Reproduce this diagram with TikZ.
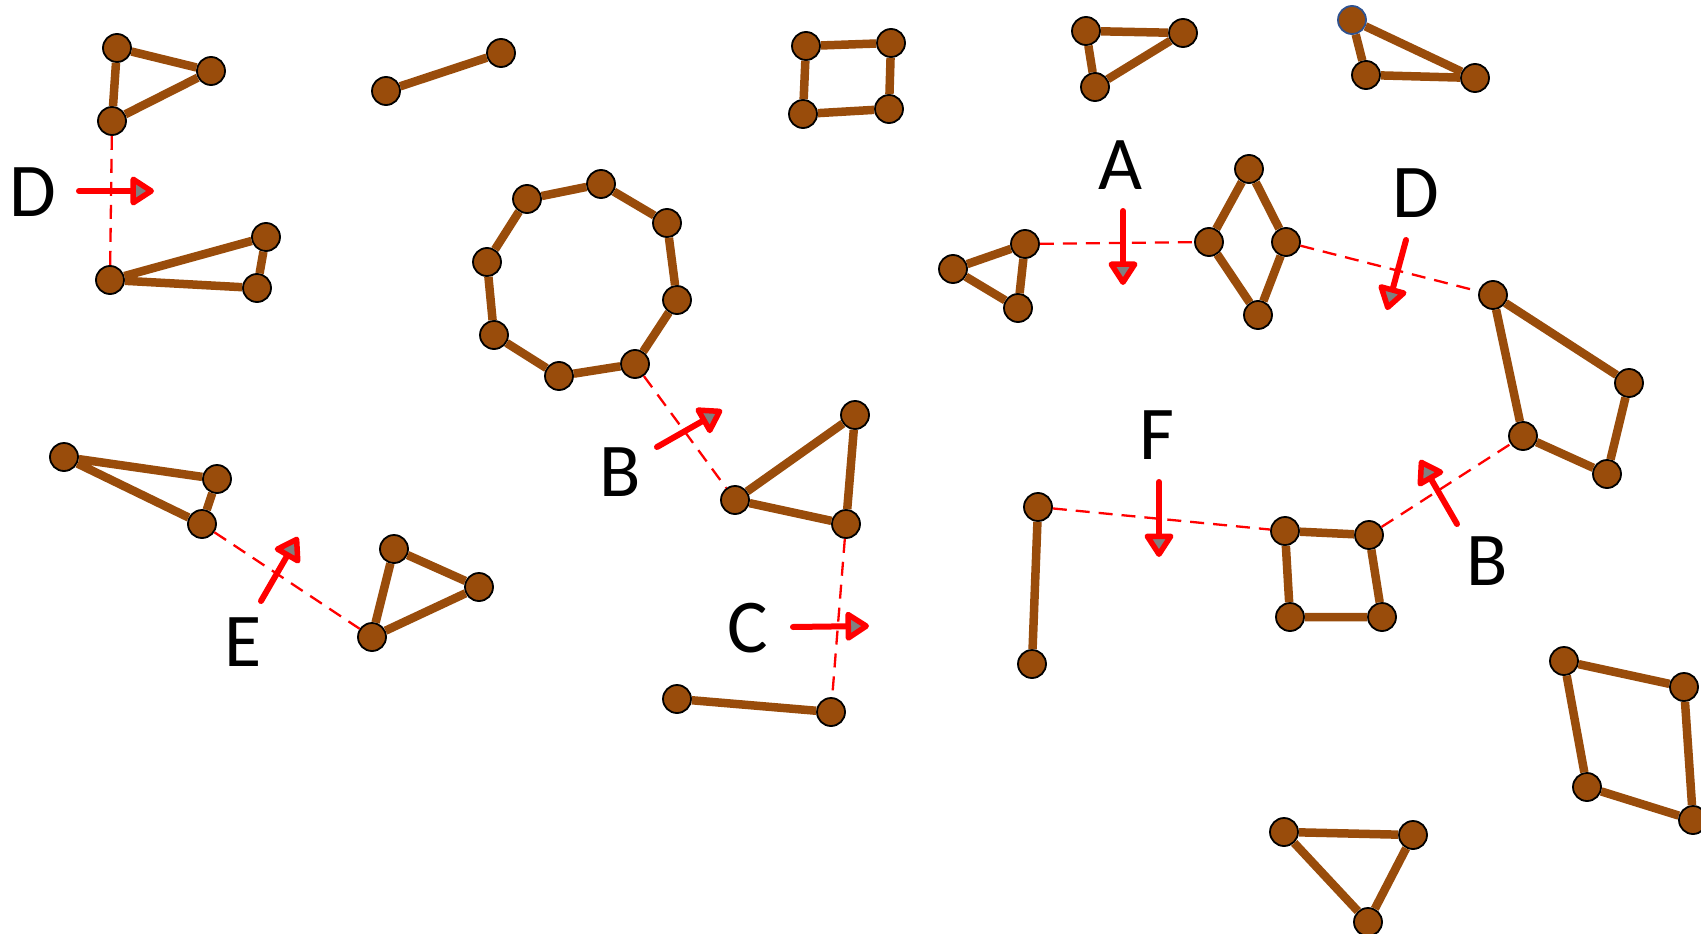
\documentclass[tikz,border=0pt]{standalone}
\usepackage{fontspec}
\setmainfont{Carlito}
\usetikzlibrary{arrows.meta}
\definecolor{nodebrown}{RGB}{153,76,11}
\definecolor{bluering}{RGB}{47,82,143}
\begin{document}
\begin{tikzpicture}[x=1pt,y=-1pt,
  v/.style={circle,fill=nodebrown,draw=black,line width=1.8pt,minimum size=28pt,inner sep=0pt},
  e/.style={draw=nodebrown,line width=8.5pt},
  link/.style={draw=red,line width=2.3pt,dash pattern=on 14pt off 9pt},
  move/.style={draw=red,line width=6pt,line cap=round,-{Triangle[length=26pt,width=32pt,fill=gray,line width=5.5pt,round]}},
  lbl/.style={font=\fontsize{76}{80}\selectfont,inner sep=0pt,text=black}]
\useasboundingbox (0,0) rectangle (1701,934);
% nodes
\node[v] (t1a) at (117,48) {}; \node[v] (t1b) at (211,71) {}; \node[v] (t1c) at (112,121) {};
\node[v] (t2a) at (110,280) {}; \node[v] (t2b) at (266,237) {}; \node[v] (t2c) at (257,288) {};
\node[v] (s1a) at (386,91) {}; \node[v] (s1b) at (501,53) {};
\node[v] (q1a) at (806,46) {}; \node[v] (q1b) at (891,43) {}; \node[v] (q1c) at (889,109) {}; \node[v] (q1d) at (803,114) {};
\node[v] (t3a) at (1086,31) {}; \node[v] (t3b) at (1183,33) {}; \node[v] (t3c) at (1095,87) {};
\node[v,draw=bluering] (t4a) at (1352,20) {}; \node[v] (t4b) at (1366,75) {}; \node[v] (t4c) at (1475,78) {};
\node[v] (o1) at (527,199) {}; \node[v] (o2) at (601,184) {}; \node[v] (o3) at (667,223) {}; \node[v] (o4) at (677,300) {};
\node[v] (o5) at (635,364) {}; \node[v] (o6) at (559,376) {}; \node[v] (o7) at (494,335) {}; \node[v] (o8) at (487,262) {};
\node[v] (t5a) at (735,500) {}; \node[v] (t5b) at (855,415) {}; \node[v] (t5c) at (846,524) {};
\node[v] (s2a) at (677,699) {}; \node[v] (s2b) at (831,712) {};
\node[v] (t6a) at (64,457) {}; \node[v] (t6b) at (217,479) {}; \node[v] (t6c) at (202,524) {};
\node[v] (t7a) at (394,549) {}; \node[v] (t7b) at (479,587) {}; \node[v] (t7c) at (372,637) {};
\node[v] (t8a) at (953,269) {}; \node[v] (t8b) at (1025,244) {}; \node[v] (t8c) at (1018,308) {};
\node[v] (da) at (1249,169) {}; \node[v] (db) at (1209,242) {}; \node[v] (dc) at (1286,242) {}; \node[v] (dd) at (1258,315) {};
\node[v] (q2a) at (1493,295) {}; \node[v] (q2b) at (1629,383) {}; \node[v] (q2c) at (1607,474) {}; \node[v] (q2d) at (1523,436) {};
\node[v] (s3a) at (1038,507) {}; \node[v] (s3b) at (1032,664) {};
\node[v] (q3a) at (1285,531) {}; \node[v] (q3b) at (1369,535) {}; \node[v] (q3c) at (1382,617) {}; \node[v] (q3d) at (1290,617) {};
\node[v] (q4a) at (1564,661) {}; \node[v] (q4b) at (1684,687) {}; \node[v] (q4c) at (1693,820) {}; \node[v] (q4d) at (1587,787) {};
\node[v] (t9a) at (1284,832) {}; \node[v] (t9b) at (1413,835) {}; \node[v] (t9c) at (1368,922) {};
% edges
\draw[e] (t1a)--(t1b) (t1b)--(t1c) (t1c)--(t1a);
\draw[e] (t2a)--(t2b) (t2b)--(t2c) (t2c)--(t2a);
\draw[e] (s1a)--(s1b);
\draw[e] (q1a)--(q1b) (q1b)--(q1c) (q1c)--(q1d) (q1d)--(q1a);
\draw[e] (t3a)--(t3b) (t3b)--(t3c) (t3c)--(t3a);
\draw[e] (t4a)--(t4b) (t4b)--(t4c) (t4c)--(t4a);
\draw[e] (o1)--(o2) (o2)--(o3) (o3)--(o4) (o4)--(o5) (o5)--(o6) (o6)--(o7) (o7)--(o8) (o8)--(o1);
\draw[e] (t5a)--(t5b) (t5b)--(t5c) (t5c)--(t5a);
\draw[e] (s2a)--(s2b);
\draw[e] (t6a)--(t6b) (t6b)--(t6c) (t6c)--(t6a);
\draw[e] (t7a)--(t7b) (t7b)--(t7c) (t7c)--(t7a);
\draw[e] (t8a)--(t8b) (t8b)--(t8c) (t8c)--(t8a);
\draw[e] (da)--(dc) (dc)--(dd) (dd)--(db) (db)--(da);
\draw[e] (q2a)--(q2b) (q2b)--(q2c) (q2c)--(q2d) (q2d)--(q2a);
\draw[e] (s3a)--(s3b);
\draw[e] (q3a)--(q3b) (q3b)--(q3c) (q3c)--(q3d) (q3d)--(q3a);
\draw[e] (q4a)--(q4b) (q4b)--(q4c) (q4c)--(q4d) (q4d)--(q4a);
\draw[e] (t9a)--(t9b) (t9b)--(t9c) (t9c)--(t9a);
% dashed links
\draw[link] (t1c)--(t2a);
\draw[link] (o5)--(t5a);
\draw[link] (t5c)--(s2b);
\draw[link] (t6c)--(t7c);
\draw[link] (t8b)--(db);
\draw[link] (dc)--(q2a);
\draw[link] (s3a)--(q3a);
\draw[link] (q3b)--(q2d);
% move arrows
\coordinate (m1s) at (79,191); \coordinate (m1e) at (154,191);
\coordinate (m2s) at (657,447); \coordinate (m2e) at (722,410);
\coordinate (m3s) at (793,627); \coordinate (m3e) at (869,626);
\coordinate (m4s) at (261,601); \coordinate (m4e) at (298,537);
\coordinate (m5s) at (1123,211); \coordinate (m5e) at (1123,285);
\coordinate (m6s) at (1406,240); \coordinate (m6e) at (1387,310);
\coordinate (m7s) at (1159,482); \coordinate (m7e) at (1159,557);
\coordinate (m8s) at (1457,524); \coordinate (m8e) at (1420,460);
\draw[move] (m1s)--(m1e);
\draw[move] (m2s)--(m2e);
\draw[move] (m3s)--(m3e);
\draw[move] (m4s)--(m4e);
\draw[move] (m5s)--(m5e);
\draw[move] (m6s)--(m6e);
\draw[move] (m7s)--(m7e);
\draw[move] (m8s)--(m8e);
% labels
\node[lbl] (lD1) at (33,192) {D};
\node[lbl] (lB1) at (620,472) {B};
\node[lbl] (lC) at (748,628) {C};
\node[lbl] (lE) at (243,642) {E};
\node[lbl] (lA) at (1120,165) {A};
\node[lbl] (lD2) at (1416,193) {D};
\node[lbl] (lF) at (1157,435) {F};
\node[lbl] (lB2) at (1487,561) {B};
\end{tikzpicture}
\end{document}
